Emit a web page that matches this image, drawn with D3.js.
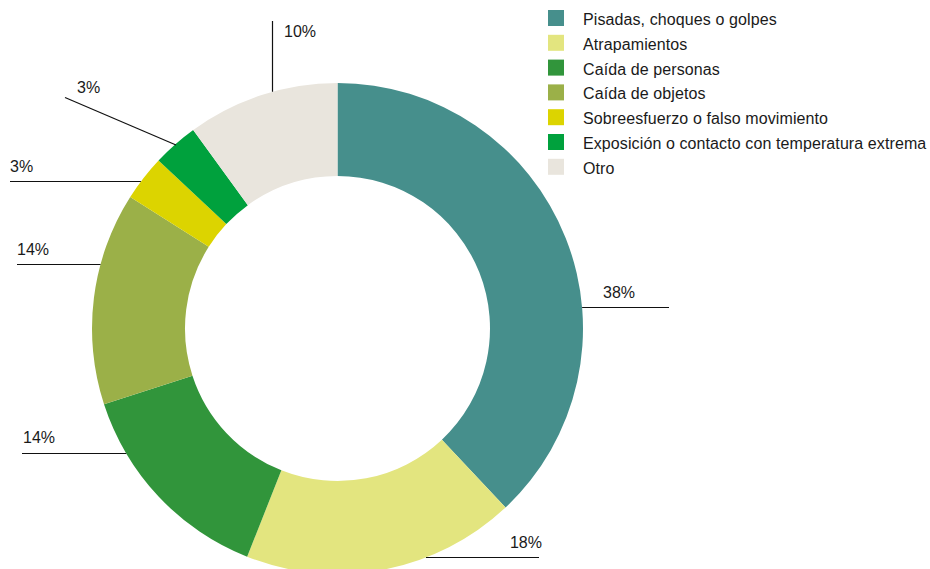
<!DOCTYPE html>
<html>
<head>
<meta charset="utf-8">
<script src="https://cdn.jsdelivr.net/npm/d3@7"></script>
<style>
  html, body { margin: 0; padding: 0; background: #ffffff; }
  svg { display: block; }
  text { font-family: "Liberation Sans", Arial, sans-serif; fill: #1a1a1a; }
</style>
</head>
<body>
<svg id="chart" width="930" height="569"></svg>
<script>
// Accident types and their share of the total (%)
const categories = [
  "Pisadas, choques o golpes",
  "Atrapamientos",
  "Caída de personas",
  "Caída de objetos",
  "Sobreesfuerzo o falso movimiento",
  "Exposición o contacto con temperatura extrema",
  "Otro"
];
const values = [38, 18, 14, 14, 3, 3, 10];
const colors = ["#468f8c", "#e3e57f", "#31953b", "#9bb048", "#dcd400", "#00a13d", "#e9e5dd"];

// Leader-line layout for each slice label
// kind "h": horizontal line at y, running from the ring to endX
// kind "d": straight line from a ring point to a free end
// kind "v": vertical line at x, from the ring up to endY
const leaders = [
  { kind: "h", y: 307.5, endX: 669, textX: 603, textY: 298, anchor: "start" },
  { kind: "h", y: 557.5, endX: 539, textX: 542, textY: 548, anchor: "end" },
  { kind: "h", y: 453.5, endX: 22,  textX: 23,  textY: 443, anchor: "start" },
  { kind: "h", y: 264.5, endX: 17,  textX: 17,  textY: 255, anchor: "start" },
  { kind: "h", y: 181.5, endX: 10,  textX: 10,  textY: 172, anchor: "start" },
  { kind: "d", x1: 176, y1: 145, endX: 65, endY: 97.5, textX: 77, textY: 93, anchor: "start" },
  { kind: "v", x: 272.5, endY: 21, textX: 284, textY: 37, anchor: "start" }
];

const svg = d3.select("#chart");
const cx = 337.5, cy = 328.5;
const outerR = 245.5, innerR = 152.5;

const data = categories.map((c, i) => ({ name: c, value: values[i], color: colors[i] }));

const pie = d3.pie().value(d => d.value).sort(null);
const arc = d3.arc().innerRadius(innerR).outerRadius(outerR);

const g = svg.append("g").attr("transform", `translate(${cx},${cy})`);
g.selectAll("path")
  .data(pie(data))
  .join("path")
  .attr("d", arc)
  .attr("fill", d => d.data.color);

// Leader lines and percentage labels
const lab = svg.append("g");
leaders.forEach((L, i) => {
  let x1, y1, x2, y2;
  if (L.kind === "h") {
    const dy = L.y - cy;
    const dx = Math.sqrt(outerR * outerR - dy * dy);
    x1 = L.endX > cx ? cx + dx : cx - dx;
    y1 = L.y; x2 = L.endX; y2 = L.y;
  } else if (L.kind === "v") {
    const dx = L.x - cx;
    x1 = L.x; y1 = cy - Math.sqrt(outerR * outerR - dx * dx);
    x2 = L.x; y2 = L.endY;
  } else {
    x1 = L.x1; y1 = L.y1; x2 = L.endX; y2 = L.endY;
  }
  lab.append("line")
    .attr("x1", x1).attr("y1", y1).attr("x2", x2).attr("y2", y2)
    .attr("stroke", "#111").attr("stroke-width", 1.2);
  lab.append("text")
    .attr("x", L.textX).attr("y", L.textY)
    .attr("text-anchor", L.anchor)
    .attr("font-size", 16)
    .text(values[i] + "%");
});

// Legend
const legend = svg.append("g").attr("transform", "translate(548,10)");
const rowH = 24.8;
const rows = legend.selectAll("g")
  .data(data)
  .join("g")
  .attr("transform", (d, i) => `translate(0,${i * rowH})`);
rows.append("rect")
  .attr("width", 16).attr("height", 16)
  .attr("fill", d => d.color);
rows.append("text")
  .attr("x", 35).attr("y", 15)
  .attr("font-size", 16)
  .attr("letter-spacing", 0.1)
  .text(d => d.name);
</script>
</body>
</html>
